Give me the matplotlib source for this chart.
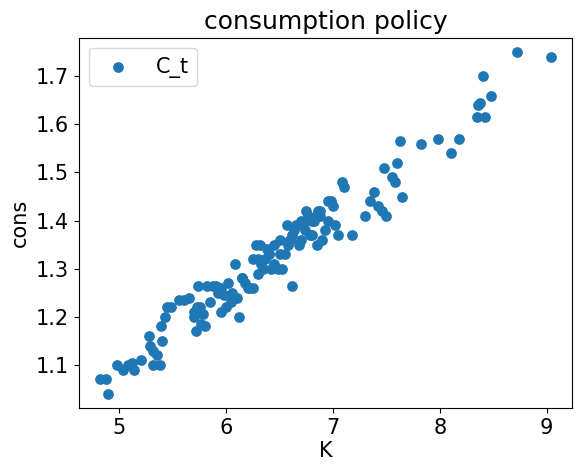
import matplotlib
matplotlib.use("Agg")
import matplotlib.pyplot as plt

K = [4.82,4.87,4.89,4.98,5.03,5.08,5.12,5.14,5.20,5.28,5.29,5.31,5.31,5.35,5.38,5.39,5.40,5.43,5.45,5.48,5.56,5.60,5.65,5.70,5.72,5.73,5.74,5.75,5.76,5.78,5.80,5.82,5.88,5.90,5.92,5.95,5.98,6.00,6.02,6.04,6.08,6.10,6.12,6.15,6.18,6.20,6.22,6.25,6.28,6.30,6.32,6.34,6.36,6.38,6.40,6.42,6.45,6.48,6.50,6.52,6.55,6.58,6.60,6.62,6.63,6.65,6.68,6.70,6.72,6.74,6.75,6.78,6.80,6.82,6.84,6.85,6.86,6.88,6.90,6.92,6.95,6.98,7.00,7.02,7.05,7.08,7.10,7.18,7.30,7.35,7.38,7.42,7.46,7.48,7.50,7.55,7.58,7.60,7.63,7.65,7.82,7.98,8.10,8.18,8.35,8.36,8.38,8.40,8.42,8.48,8.72,9.04,
     5.75,6.05,6.30,6.50,6.62,6.88,6.40,6.25,5.85,6.70,6.95,5.70,6.15,6.45,6.80,6.57,6.33,5.95,6.60,6.77]
C = [1.07,1.07,1.04,1.10,1.09,1.10,1.105,1.09,1.11,1.16,1.14,1.10,1.13,1.12,1.10,1.18,1.15,1.20,1.22,1.22,1.235,1.235,1.24,1.20,1.17,1.22,1.265,1.21,1.185,1.205,1.18,1.265,1.265,1.265,1.25,1.21,1.245,1.22,1.27,1.23,1.31,1.24,1.20,1.28,1.27,1.26,1.26,1.32,1.35,1.32,1.35,1.30,1.32,1.34,1.33,1.30,1.35,1.30,1.36,1.30,1.33,1.35,1.36,1.265,1.38,1.39,1.35,1.40,1.39,1.38,1.42,1.37,1.37,1.40,1.41,1.35,1.42,1.41,1.36,1.38,1.44,1.44,1.43,1.39,1.37,1.48,1.47,1.37,1.41,1.44,1.46,1.43,1.42,1.51,1.41,1.49,1.48,1.52,1.565,1.45,1.56,1.57,1.54,1.57,1.615,1.64,1.645,1.70,1.615,1.66,1.75,1.74,
     1.22,1.25,1.29,1.33,1.37,1.42,1.33,1.26,1.23,1.36,1.40,1.21,1.28,1.31,1.40,1.39,1.31,1.26,1.36,1.41]

fig, ax = plt.subplots(figsize=(5.84, 4.72), dpi=100)
ax.scatter(K, C, color='#1f77b4', s=45, label='C_t')
ax.set_title('consumption policy', fontsize=18)
ax.set_xlabel('K', fontsize=15, labelpad=2)
ax.set_ylabel('cons', fontsize=15)
ax.tick_params(labelsize=15)
ax.set_xticks([5, 6, 7, 8, 9])
ax.set_yticks([1.1, 1.2, 1.3, 1.4, 1.5, 1.6, 1.7])
ax.set_xlim(4.62, 9.24)
ax.set_ylim(1.01, 1.78)
ax.legend(loc='upper left', fontsize=15)
fig.subplots_adjust(left=0.135, right=0.98, bottom=0.135, top=0.92)
fig.savefig('out.png')
